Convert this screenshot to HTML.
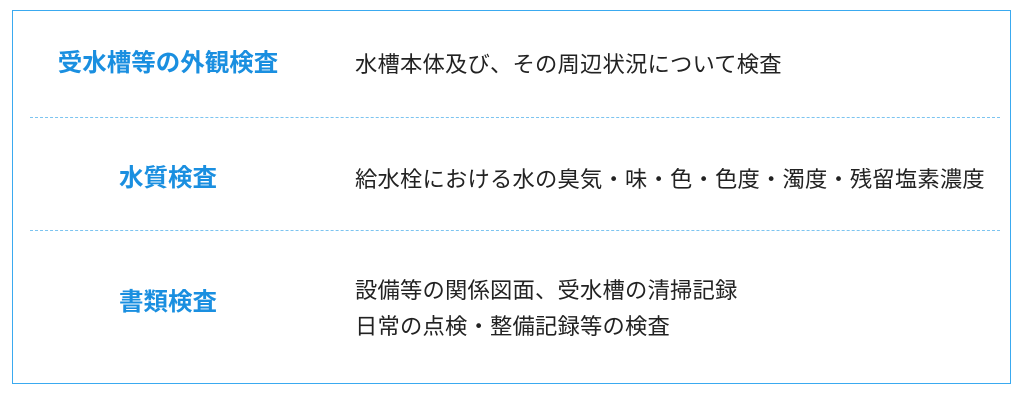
<!DOCTYPE html>
<html><head><meta charset="utf-8"><style>
body{margin:0;width:1024px;height:413px;background:#fff;position:relative;font-family:"Liberation Sans","Noto Sans CJK JP",sans-serif;overflow:hidden}
.box{position:absolute;left:12px;top:10px;width:999px;height:374px;border:1.5px solid #3aaaf0;box-sizing:border-box}
.dash{position:absolute;left:30px;width:970px;border-top:1.5px dashed #7cc4f0}
.t{position:absolute;width:260px;left:38px;text-align:center;color:#1a8fe0;font-weight:bold;font-size:24.5px;line-height:28px}
.b{position:absolute;left:355px;color:#222;font-size:22.3px;letter-spacing:0.2px;line-height:28px;white-space:nowrap}
</style></head><body>
<div class="box"></div>
<div class="dash" style="top:117px"></div>
<div class="dash" style="top:230px"></div>
<div class="t" style="top:50px">受水槽等の外観検査</div>
<div class="b" style="top:51px">水槽本体及び、その周辺状況について検査</div>
<div class="t" style="top:165px">水質検査</div>
<div class="b" style="top:166px">給水栓における水の臭気・味・色・色度・濁度・残留塩素濃度</div>
<div class="t" style="top:289px">書類検査</div>
<div class="b" style="top:277px">設備等の関係図面、受水槽の清掃記録</div>
<div class="b" style="top:313px">日常の点検・整備記録等の検査</div>
</body></html>
